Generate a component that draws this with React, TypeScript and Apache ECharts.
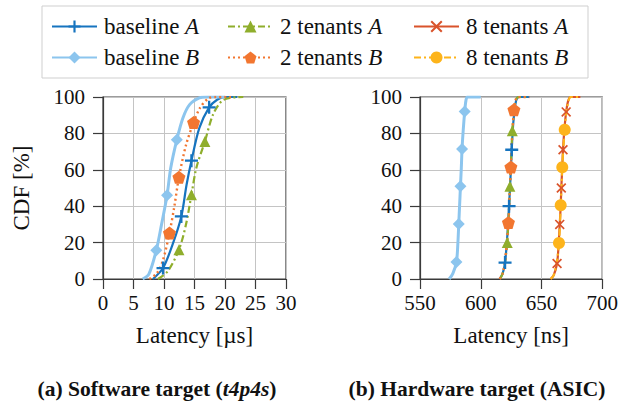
import React, { useEffect, useRef } from "react";
import * as echarts from "echarts";

const FONT = "Liberation Serif, Times New Roman, serif";

// ---- axis ticks ----
const leftXTicks = { min: 0, max: 30, interval: 5 };
const rightXTicks = { min: 550, max: 700, interval: 50 };
const yTicks = { min: 0, max: 100, interval: 20 };

// ---- series names ----
const seriesNames = ["baseline A", "2 tenants A", "8 tenants A", "baseline B", "2 tenants B", "8 tenants B"];

// ---- (a) Software target: [latency µs, CDF %] ----
const swBaselineA = [[8.2, 0], [9.84, 6], [11.4, 18.9], [12.84, 34.4], [13.7, 51.8], [14.5, 65], [15.8, 83], [17.4, 94.3], [18.7, 98.5], [20, 100], [22, 100]];
const swBaselineAMarks = [1, 3, 5, 7];
const sw2TenantsA = [[9.0, 0], [10.6, 4.2], [12.45, 16.1], [13.6, 29.9], [14.5, 46.3], [15.3, 61], [16.7, 75.6], [18, 90], [19.4, 97.6], [20.8, 99.5], [23, 100]];
const sw2TenantsAMarks = [2, 4, 6];
const swBaselineB = [[6.5, 0], [7.5, 2.5], [8.74, 15.8], [9.6, 30], [10.5, 46], [11.1, 61], [12.1, 76.5], [13.1, 88.5], [14.2, 95.8], [15.8, 99.5], [17, 100], [20, 100]];
const swBaselineBMarks = [2, 4, 6];
const sw2TenantsB = [[7.6, 0], [8.8, 3], [9.8, 10], [10.9, 25.3], [11.7, 40], [12.45, 55.9], [13.6, 73.5], [14.85, 86], [15.9, 94], [17.3, 99.3], [18.5, 100], [21, 100]];
const sw2TenantsBMarks = [3, 5, 7];

// ---- (b) Hardware target: [latency ns, CDF %] ----
const hwBaselineA = [[615.5, 0], [618, 3], [620, 9], [622, 25], [623.3, 40], [624.5, 56], [625.5, 71], [626.8, 86], [628.5, 96], [630, 99.5], [632, 100], [640, 100]];
const hwBaselineAMarks = [2, 4, 6];
const hw2TenantsA = [[616, 0], [618.5, 4], [620.5, 12], [621.8, 20], [623, 35], [624, 51], [625, 66], [626, 81.5], [627.5, 93], [629.5, 99.3], [632, 100], [638, 100]];
const hw2TenantsAMarks = [3, 5, 7];
const hw8TenantsA = [[657.5, 0], [660, 2], [662.8, 8.5], [664, 18], [665, 30], [665.8, 40], [666.3, 50], [667, 60], [667.7, 71], [668.7, 81], [670.3, 91.8], [672, 98], [674, 100], [682, 100]];
const hw8TenantsAMarks = [2, 4, 6, 8, 10];
const hwBaselineB = [[574, 0], [577, 3], [580, 9.3], [581.2, 20], [581.9, 30.2], [582.6, 40.5], [583.3, 50.9], [584, 61], [584.6, 71.4], [585.6, 82], [586.8, 92.1], [587.8, 98], [589, 100], [600, 100]];
const hwBaselineBMarks = [2, 4, 6, 8, 10];
const hw2TenantsB = [[615.5, 0], [618, 3], [620, 10], [622.8, 31], [623.8, 46], [624.8, 61.5], [625.8, 77], [627.3, 93], [629, 99], [631, 100], [640, 100]];
const hw2TenantsBMarks = [3, 5, 7];
const hw8TenantsB = [[657.5, 0], [660, 2], [662.5, 9], [664.4, 19.8], [665.2, 30], [665.8, 40.5], [666.5, 51], [667.1, 61.4], [668, 72], [669.1, 82], [670.5, 92], [672.5, 98.5], [674, 100], [682, 100]];
const hw8TenantsBMarks = [3, 5, 7, 9];

// ---- styles ----
const PLUS = "path://M4.1,0H5.9V4.1H10V5.9H5.9V10H4.1V5.9H0V4.1H4.1Z";
const CROSS = "path://M1.2,0L5,3.8L8.8,0L10,1.2L6.2,5L10,8.8L8.8,10L5,6.2L1.2,10L0,8.8L3.8,5L0,1.2Z";
const PENTA = "path://M5,0L10,3.7L8.1,9.6H1.9L0,3.7Z";

const styles: Record<string, any> = {
  "baseline A": { color: "#1674bf", width: 2.2, type: "solid", symbol: PLUS, size: 13 },
  "2 tenants A": { color: "#8fae2c", width: 2.2, type: [7, 3, 2, 3], symbol: "triangle", size: 11 },
  "8 tenants A": { color: "#d9532b", width: 2.2, type: "solid", symbol: CROSS, size: 10 },
  "baseline B": { color: "#8cc5ee", width: 3, type: "solid", symbol: "diamond", size: 12 },
  "2 tenants B": { color: "#f27630", width: 2.4, type: [2, 3], symbol: PENTA, size: 13 },
  "8 tenants B": { color: "#fdb41b", width: 2.2, type: [7, 3, 2, 3], symbol: "circle", size: 12 },
};

function mkSeries(name: string, pts: number[][], marks: number[], gi: number) {
  const s = styles[name];
  return {
    type: "line",
    name,
    xAxisIndex: gi,
    yAxisIndex: gi,
    smooth: 0.3,
    symbol: s.symbol,
    symbolSize: s.size,
    showSymbol: true,
    showAllSymbol: true,
    lineStyle: { color: s.color, width: s.width, type: s.type },
    itemStyle: { color: s.color, borderWidth: 0 },
    emphasis: { disabled: true },
    data: pts.map((p, i) => (marks.includes(i) ? { value: p } : { value: p, symbol: "none" })),
  };
}

function mkGrid(left: number, width: number) {
  return { left, top: 97, width, height: 182, show: true, borderColor: "#3a3a3a", borderWidth: 1.2, backgroundColor: "transparent" };
}

function mkX(gi: number, ticks: any, name: string) {
  return {
    type: "value",
    gridIndex: gi,
    ...ticks,
    name,
    nameLocation: "middle",
    nameGap: 45,
    nameTextStyle: { fontFamily: FONT, fontSize: 23, color: "#111" },
    axisLine: { show: true, onZero: false, lineStyle: { color: "#3a3a3a", width: 1.2 } },
    axisTick: { show: true, inside: false, length: 10, lineStyle: { color: "#3a3a3a", width: 1.2 } },
    axisLabel: { fontFamily: FONT, fontSize: 21, color: "#111", margin: 13 },
    splitLine: { show: true, lineStyle: { color: "#c4c4c4", width: 1 } },
  };
}

function mkY(gi: number, name: string) {
  return {
    type: "value",
    gridIndex: gi,
    ...yTicks,
    name,
    nameLocation: "middle",
    nameGap: 70,
    nameTextStyle: { fontFamily: FONT, fontSize: 23, color: "#111" },
    axisLine: { show: true, lineStyle: { color: "#3a3a3a", width: 1.2 } },
    axisTick: { show: true, inside: false, length: 10, lineStyle: { color: "#3a3a3a", width: 1.2 } },
    axisLabel: { fontFamily: FONT, fontSize: 21, color: "#111", margin: 18 },
    splitLine: { show: true, lineStyle: { color: "#c4c4c4", width: 1 } },
  };
}

const legendCols = [51, 227, 413];
const legendRows = [15, 46];

function mkLegend(name: string, idx: number) {
  const col = idx % 3;
  const row = Math.floor(idx / 3);
  return {
    show: true,
    left: legendCols[col],
    top: legendRows[row],
    padding: 0,
    itemWidth: 45,
    itemHeight: 15,
    itemGap: 0,
    selectedMode: false,
    data: [{ name }],
    formatter: (n: string) => `{r|${n.slice(0, -1)}}{i|${n.slice(-1)}}`,
    textStyle: {
      fontFamily: FONT,
      fontSize: 23,
      color: "#111",
      padding: [0, 0, 0, 2],
      rich: {
        r: { fontFamily: FONT, fontSize: 23, color: "#111", lineHeight: 24 },
        i: { fontFamily: FONT, fontSize: 23, color: "#111", fontStyle: "italic", lineHeight: 24 },
      },
    },
  };
}

export default function App() {
  const ref = useRef<HTMLDivElement>(null);
  useEffect(() => {
    if (!ref.current) return;
    const chart = echarts.init(ref.current, undefined, { renderer: "svg" });
    const series = [
      mkSeries("baseline A", swBaselineA, swBaselineAMarks, 0),
      mkSeries("2 tenants A", sw2TenantsA, sw2TenantsAMarks, 0),
      mkSeries("baseline B", swBaselineB, swBaselineBMarks, 0),
      mkSeries("2 tenants B", sw2TenantsB, sw2TenantsBMarks, 0),
      mkSeries("baseline A", hwBaselineA, hwBaselineAMarks, 1),
      mkSeries("2 tenants A", hw2TenantsA, hw2TenantsAMarks, 1),
      mkSeries("8 tenants A", hw8TenantsA, hw8TenantsAMarks, 1),
      mkSeries("baseline B", hwBaselineB, hwBaselineBMarks, 1),
      mkSeries("2 tenants B", hw2TenantsB, hw2TenantsBMarks, 1),
      mkSeries("8 tenants B", hw8TenantsB, hw8TenantsBMarks, 1),
    ];
    const capRich = {
      b: { fontFamily: FONT, fontSize: 21.5, fontWeight: "bold", fill: "#111" },
      bi: { fontFamily: FONT, fontSize: 21.5, fontWeight: "bold", fontStyle: "italic", fill: "#111" },
    };
    chart.setOption({
      animation: false,
      backgroundColor: "#fff",
      textStyle: { fontFamily: FONT },
      grid: [mkGrid(103, 183), mkGrid(420, 183.5)],
      xAxis: [mkX(0, leftXTicks, "Latency [µs]"), mkX(1, rightXTicks, "Latency [ns]")],
      yAxis: [mkY(0, "CDF [%]"), mkY(1, "")],
      legend: seriesNames.map((n, i) => mkLegend(n, i)),
      graphic: [
        { type: "rect", shape: { x: 42, y: 6, width: 546, height: 72 }, style: { fill: "none", stroke: "#cfcfcf", lineWidth: 1 } },
        { type: "text", x: 157, y: 389, style: { text: "{b|(a) Software target (}{bi|t4p4s}{b|)}", rich: capRich, align: "center", verticalAlign: "middle" } },
        { type: "text", x: 477, y: 389, style: { text: "{b|(b) Hardware target (ASIC)}", rich: capRich, align: "center", verticalAlign: "middle" } },
      ],
      series,
    });
    return () => chart.dispose();
  }, []);
  return <div ref={ref} style={{ position: "fixed", left: 0, top: 0, width: 621, height: 402 }} />;
}
